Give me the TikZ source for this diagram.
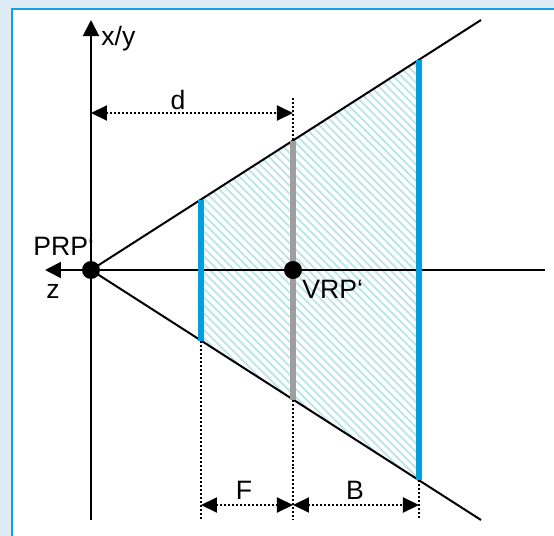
\documentclass[tikz,border=0pt]{standalone}
\usepackage{fontspec}
\setmainfont{Liberation Sans}
\usepackage{tikz}
\usetikzlibrary{arrows.meta,patterns.meta}
\definecolor{panelbg}{RGB}{221,235,245}
\definecolor{panelline}{RGB}{20,162,222}
\definecolor{planeblue}{RGB}{0,160,222}
\definecolor{planegray}{RGB}{158,158,158}
\definecolor{hatchcol}{RGB}{184,228,234}

\begin{document}
\begin{tikzpicture}[x=0.5pt, y=-0.5pt,
  axis/.style={line width=1pt, -{Triangle[length=8pt,width=8pt]}},
  ray/.style={line width=1pt},
  dot/.style={circle, fill=black, inner sep=0pt, minimum size=9pt},
  plane/.style={line width=2.6pt, draw=planeblue},
  vplane/.style={line width=2.6pt, draw=planegray},
  guide/.style={line width=1pt, dash pattern=on 1pt off 1pt},
  dim/.style={guide, {Triangle[length=8pt,width=7.5pt]}-{Triangle[length=8pt,width=7.5pt]}},
  lbl/.style={font=\fontsize{13.3}{15}\selectfont, inner sep=0pt}
]
  \clip (0,0) rectangle (554,536);
  \fill[panelbg] (0,0) rectangle (554,536);
  \draw[draw=panelline, fill=white, line width=1pt] (12.5,8.5) rectangle (600,600);

  % frustum corners
  \coordinate (ft) at (201,199.5);
  \coordinate (fb) at (201,340.5);
  \coordinate (vt) at (293,140.5);
  \coordinate (vb) at (293,399.5);
  \coordinate (bt) at (419,59.7);
  \coordinate (bb) at (419,480.3);
  \fill[pattern={Lines[angle=-45,distance=2.9pt,line width=0.9pt]}, pattern color=hatchcol]
    (ft) -- (bt) -- (bb) -- (fb) -- cycle;

  % axes and rays
  \coordinate (ytop) at (91,20);
  \coordinate (ybot) at (91,520);
  \coordinate (zend) at (45,270);
  \coordinate (zfar) at (545,270);
  \coordinate (uend) at (481,20);
  \coordinate (lend) at (481,520);
  \node[lbl, anchor=base west] (prplbl) at (33,255) {PRP‘};
  \draw[axis] (ybot) -- (ytop);
  \draw[axis] (zfar) -- (zend);
  \draw[ray] (91,270) -- (uend);
  \draw[ray] (91,270) -- (lend);

  % planes
  \draw[plane] (ft) -- (fb);
  \draw[vplane] (vt) -- (vb);
  \draw[plane] (bt) -- (bb);

  \node[dot] (prp) at (91,270) {};
  \node[dot] (vrp) at (293,270) {};

  % dimensions
  \coordinate (dl) at (91,113);
  \coordinate (dr) at (293,113);
  \coordinate (dtop) at (293,98);
  \coordinate (fl) at (201,505);
  \coordinate (fm) at (293,505);
  \coordinate (br) at (419,505);
  \coordinate (fend) at (201,520);
  \coordinate (mend) at (293,520);
  \coordinate (bend) at (419,520);
  \draw[guide] (dtop) -- (vt);
  \draw[guide] (fb) -- (fend);
  \draw[guide] (vb) -- (mend);
  \draw[guide] (bb) -- (bend);
  \draw[dim] (dl) -- (dr);
  \draw[dim] (fl) -- (fm);
  \draw[dim] (fm) -- (br);

  % labels
  \node[lbl, anchor=base west] (xylbl) at (101,45) {x/y};
  \node[lbl, anchor=base] (dlbl) at (178,109) {d};
  \node[lbl, anchor=base] (zlbl) at (53,298) {z};
  \node[lbl, anchor=base west] (vrplbl) at (302,298) {VRP‘};
  \node[lbl, anchor=base] (flbl) at (244,500) {F};
  \node[lbl, anchor=base] (blbl) at (355,500) {B};
\end{tikzpicture}
\end{document}
